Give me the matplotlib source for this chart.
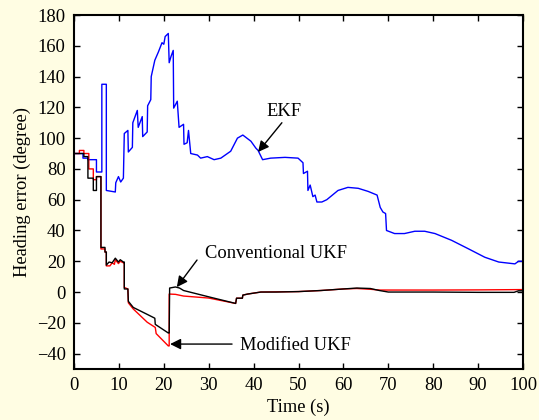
import matplotlib
matplotlib.use("Agg")
import matplotlib.pyplot as plt

# ---- data ----
ekf_t = [0, 2, 2, 3.1, 3.1, 5.0, 5.0, 6.2, 6.2, 7.2, 7.2, 9.2, 9.3, 9.9, 10.4, 11.0, 11.2,
         12.0, 12.1, 13.0, 13.1, 14.1, 14.3, 15.2, 15.3, 16.3, 16.4, 17.1, 17.2, 18.0,
         18.8, 19.6, 20.0, 20.3, 21.0, 21.2, 21.6, 22.1, 22.2, 23.0, 23.4, 24.4, 24.5,
         25.2, 25.5, 26.0, 27.5, 28.2, 29.7, 31.2, 32.7, 34.9, 36.4, 37.6, 39.4, 40.5,
         41.0, 42.0, 43.8, 47.0, 49.9, 51.0, 51.1, 52.0, 52.1, 52.6, 53.2, 53.7, 54.1,
         55.2, 56.3, 58.8, 61.0, 63.3, 65.5, 67.5, 68.2, 68.8, 69.4, 69.6, 71.4, 73.6,
         75.9, 78.1, 80.4, 84.1, 87.9, 91.5, 94.6, 98.2, 99.0, 100]
ekf_v = [90, 90, 87, 87, 86, 86, 78, 78, 135, 135, 66, 65, 71, 75, 71.5, 74, 103,
         105, 91, 94, 110, 118, 107, 114, 101, 104, 121, 125, 140, 150.6,
         156, 162, 161, 166, 168, 149, 153, 157, 119.5, 124, 107, 109, 96,
         97, 105, 90, 89, 87, 88, 86, 87, 91.5, 100, 102, 98, 93.5,
         92, 86, 87, 87.5, 87, 84, 77, 78.5, 66, 69.5, 62, 63, 58.5,
         58.5, 60, 66, 68, 67.4, 65.4, 63, 55, 52, 51, 40, 38, 38,
         39.5, 39.5, 38, 33.6, 28, 22.6, 19.5, 18.3, 20, 20]

cukf_t = [0, 2.2, 2.2, 3.1, 3.1, 4.3, 4.3, 5.0, 5.0, 6.0, 6.0, 6.9, 6.9, 7.2, 7.2,
          7.8, 8.5, 9.2, 9.9, 10.3, 11.0, 11.2, 11.2, 12.0, 12.1, 13.2, 16.3, 18.0,
          18.1, 21.0, 21.2, 21.3, 22.6, 23.5, 24.4, 30.4, 36.0, 36.2, 37.5, 37.6,
          38.7, 41.6, 45, 50, 55, 60, 63, 66, 68, 70, 80, 90, 98, 99, 100]
cukf_v = [90, 90, 88, 88, 74, 74, 66, 66, 75, 75, 29, 29, 26, 26, 17.5,
          19.5, 19, 22, 19.5, 21, 19.5, 19.5, 2, 2, -6, -10, -14.5, -17,
          -21, -26.6, -26.6, 2.6, 3.3, 2.6, 1, -3.4, -7.4, -4, -4, -2,
          -1.3, 0, 0, 0.3, 1, 2, 2.6, 2.3, 1, 0, 0, -0.2, -0.2, 0.8, 0.8]

mukf_t = [0, 1.2, 1.2, 2.2, 2.2, 3.3, 3.3, 4.3, 4.3, 5.0, 5.0, 6.0, 6.0, 6.9, 6.9,
          7.2, 7.2, 8.0, 8.5, 9.0, 9.2, 9.9, 10.3, 11.0, 11.2, 11.2, 12.0, 12.1,
          13.2, 16.3, 18.1, 18.3, 21.0, 21.2, 21.2, 22.6, 24.4, 30.0, 36.0, 36.2,
          37.5, 37.6, 38.7, 41.6, 50, 55, 60, 63, 66, 68, 70, 80, 90, 100]
mukf_v = [90, 90, 92, 92, 90, 90, 80, 80, 73, 73, 75, 75, 28, 28, 26,
          26, 17, 17, 19, 18, 21, 18.5, 20, 19, 19, 3, 2, -7,
          -11, -19.6, -23, -27, -35, -35, -1.3, -1.5, -2.6, -3.9, -7.4, -4,
          -4, -2, -1.3, 0, 0.3, 1, 2, 2.3, 1.8, 1.3, 1.3, 1.3, 1.4, 1.6]

x_ticks = list(range(0, 101, 10))
y_ticks = list(range(-40, 181, 20))

# ---- style ----
plt.rcParams['font.family'] = ['Liberation Serif', 'DejaVu Serif']
plt.rcParams['font.size'] = 13.3

bg = '#FFFDE3'
fig = plt.figure(figsize=(5.39, 4.20), dpi=100, facecolor=bg)
ax = fig.add_axes([74/539, 1-369/420, (523-74)/539, (369-15)/420])
ax.set_facecolor('white')

ax.plot(ekf_t, ekf_v, color='#0000FF', lw=1.0)
ax.plot(mukf_t, mukf_v, color='#FF0000', lw=1.0)
ax.plot(cukf_t, cukf_v, color='black', lw=1.0)

ax.set_xlim(0, 100)
ax.set_ylim(-50, 180)
ax.set_xticks(x_ticks)
ax.set_yticks(y_ticks)
ax.tick_params(direction='in', top=True, right=True, length=4, width=1, pad=6)
for s in ax.spines.values():
    s.set_linewidth(1.5)

ax.set_xlabel('Time (s)', labelpad=3)
ax.set_ylabel('Heading error (degree)', labelpad=4)

ap = dict(arrowstyle='-|>', color='black', lw=1.0, mutation_scale=16, shrinkA=0, shrinkB=0)
ax.annotate('', xy=(41.0, 91), xytext=(46.3, 110), arrowprops=ap)
ax.text(42.8, 117, 'EKF', va='center', ha='left')
ax.annotate('', xy=(22.9, 3.2), xytext=(27.4, 20.8), arrowprops=ap)
ax.text(29.2, 25.3, 'Conventional UKF', va='center', ha='left')
ax.annotate('', xy=(21.4, -33.8), xytext=(35.2, -33.8), arrowprops=ap)
ax.text(37.0, -35, 'Modified UKF', va='center', ha='left')

fig.savefig('out.png', dpi=100, facecolor=bg)
